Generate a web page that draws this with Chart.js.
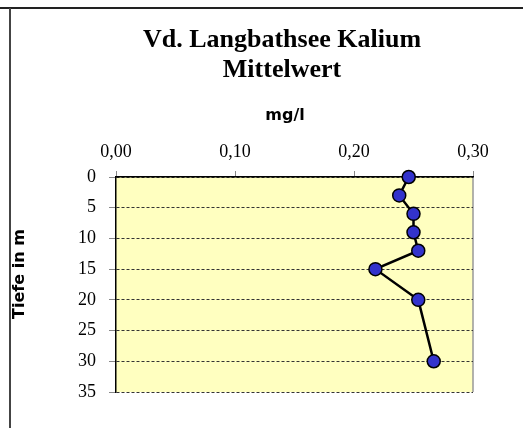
<!DOCTYPE html>
<html>
<head>
<meta charset="utf-8">
<script src="https://cdn.jsdelivr.net/npm/chart.js@4/dist/chart.umd.min.js"></script>
<style>
  html, body { margin: 0; padding: 0; background: #fff; overflow: hidden; }
  #wrap { position: relative; width: 523px; height: 428px; }
  #frameTop { position: absolute; left: 0; top: 7px; width: 523px; height: 2px; background: #222; }
  #frameLeft { position: absolute; left: 9px; top: 8px; width: 2px; bottom: 0; background: #444; }
  #chart1 { position: absolute; left: 0; top: 0; }
</style>
</head>
<body>
<div id="wrap">
  <div id="frameTop"></div>
  <div id="frameLeft"></div>
  <canvas id="chart1" width="523" height="428"></canvas>
</div>
<script>
// Tiefe (m) und Kalium-Mittelwert (mg/l)
var depths = [0, 3, 6, 9, 12, 15, 20, 30];
var kalium = [0.246, 0.238, 0.250, 0.250, 0.254, 0.218, 0.254, 0.267];

// Achsenbeschriftungen
var xTicks = [0, 0.1, 0.2, 0.3];
var xTickLabels = ["0,00", "0,10", "0,20", "0,30"];
var yTicks = [0, 5, 10, 15, 20, 25, 30, 35];

var titleLines = ["Vd. Langbathsee Kalium", "Mittelwert"];
var xTitle = "mg/l";
var yTitle = "Tiefe in m";

var points = depths.map(function (d, i) {
    return { x: kalium[i], y: d };
});

// Hintergrund der Zeichenfläche + rechter Rand
var plotBg = {
    id: 'plotBg',
    beforeDraw: function (chart) {
        var a = chart.chartArea, ctx = chart.ctx;
        ctx.save();
        ctx.fillStyle = '#ffffc0';
        ctx.fillRect(a.left, a.top, a.right - a.left, a.bottom - a.top);
        ctx.strokeStyle = '#999';
        ctx.lineWidth = 1.5;
        ctx.beginPath();
        ctx.moveTo(a.right, a.top);
        ctx.lineTo(a.right, a.bottom);
        ctx.stroke();
        ctx.restore();
    }
};

// Titel und Achsentitel
var texts = {
    id: 'texts',
    afterDraw: function (chart) {
        var ctx = chart.ctx;
        ctx.save();
        ctx.fillStyle = '#000';
        ctx.textAlign = 'center';
        ctx.textBaseline = 'alphabetic';
        ctx.font = 'bold 26px "Liberation Serif"';
        ctx.fillText(titleLines[0], 282, 47);
        ctx.fillText(titleLines[1], 282, 77);
        ctx.font = 'bold 16px "DejaVu Sans"';
        ctx.fillText(xTitle, 285, 120);
        ctx.translate(24, 274);
        ctx.rotate(-Math.PI / 2);
        ctx.fillText(yTitle, 0, 0);
        ctx.restore();
    }
};

var ctx1 = document.getElementById("chart1");
var myChart1 = new Chart(ctx1, {
    type: 'scatter',
    data: {
        datasets: [
            {
                data: points,
                showLine: true,
                clip: false,
                borderColor: '#000',
                borderWidth: 2.5,
                pointRadius: 6.5,
                pointHoverRadius: 6.5,
                pointBackgroundColor: '#3333cc',
                pointBorderColor: '#000',
                pointBorderWidth: 1.5
            }
        ]
    },
    options: {
        responsive: false,
        animation: false,
        layout: {
            padding: { top: 130, right: 50, bottom: 36, left: 0 }
        },
        plugins: {
            legend: { display: false },
            tooltip: { enabled: false },
            title: { display: false }
        },
        scales: {
            x: {
                type: 'linear',
                position: 'top',
                min: xTicks[0],
                max: xTicks[xTicks.length - 1],
                afterBuildTicks: function (scale) {
                    scale.ticks = xTicks.map(function (v) { return { value: v }; });
                },
                afterFit: function (scale) { scale.height = 47; },
                grid: {
                    drawOnChartArea: false,
                    drawTicks: true,
                    tickLength: 6,
                    tickColor: '#888',
                    tickWidth: 1
                },
                border: { display: true, color: '#000', width: 1.5 },
                ticks: {
                    padding: 8,
                    color: '#000',
                    font: { family: '"Liberation Serif"', size: 18 },
                    maxRotation: 0,
                    callback: function (value, index) { return xTickLabels[index]; }
                }
            },
            y: {
                type: 'linear',
                reverse: true,
                min: yTicks[0],
                max: yTicks[yTicks.length - 1],
                afterBuildTicks: function (scale) {
                    scale.ticks = yTicks.map(function (v) { return { value: v }; });
                },
                afterFit: function (scale) { scale.width = 116; },
                grid: {
                    color: '#333',
                    lineWidth: 1,
                    drawTicks: true,
                    tickLength: 7,
                    tickColor: '#888',
                    tickWidth: 1,
                    tickBorderDash: []
                },
                border: { display: true, color: '#000', width: 1.5, dash: [3, 2] },
                ticks: {
                    padding: 13,
                    color: '#000',
                    font: { family: '"Liberation Serif"', size: 18 }
                }
            }
        }
    },
    plugins: [plotBg, texts]
});
</script>
</body>
</html>
